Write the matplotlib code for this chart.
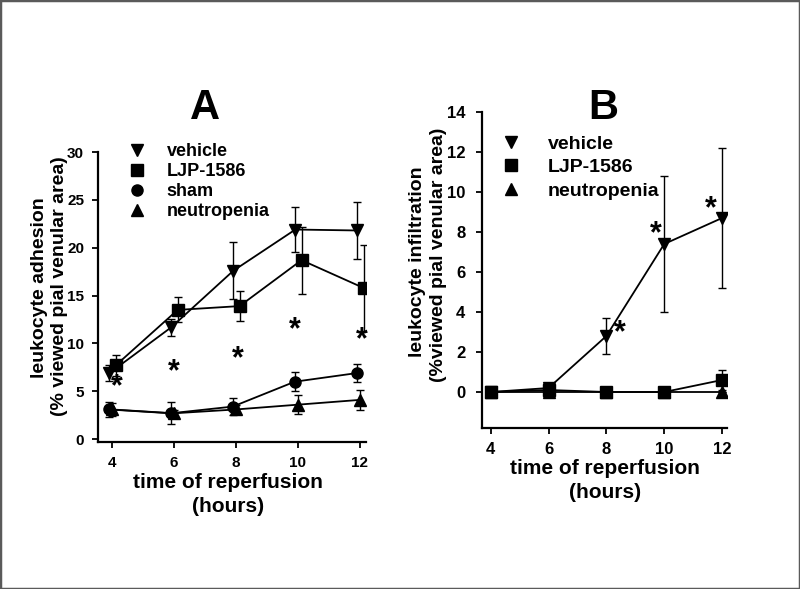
import matplotlib
matplotlib.use("Agg")
import matplotlib.pyplot as plt
from matplotlib.lines import Line2D
from matplotlib.patches import Rectangle
import numpy as np

plt.rcParams['font.family'] = ['Liberation Sans', 'DejaVu Sans']
plt.rcParams['font.weight'] = 'bold'

# ---------------- data ----------------
hours = [4, 6, 8, 10, 12]

# Panel A: leukocyte adhesion
a_vehicle = [6.9, 11.7, 17.6, 21.9, 21.8]
a_vehicle_err = [0.8, 0.9, 3.0, 2.4, 3.0]
a_ljp = [7.7, 13.5, 13.9, 18.7, 15.8]
a_ljp_err = [1.1, 1.3, 1.6, 3.5, 4.5]
a_sham = [3.1, 2.7, 3.4, 6.0, 6.9]
a_sham_err = [0.8, 1.15, 0.85, 1.0, 0.9]
a_neut = [3.1, 2.7, 3.1, 3.6, 4.1]
a_neut_err = [0.7, 0.3, 0.5, 1.0, 1.05]
a_star_x = [4.15, 6.0, 8.05, 9.9, 12.05]
a_star_y = [5.45, 7.0, 8.3, 11.4, 10.3]

# Panel B: leukocyte infiltration
b_vehicle = [0.0, 0.2, 2.8, 7.4, 8.7]
b_vehicle_err = [0.0, 0.0, 0.9, 3.4, 3.5]
b_ljp = [0.0, 0.1, 0.0, 0.0, 0.6]
b_ljp_err = [0.0, 0.0, 0.0, 0.0, 0.5]
b_neut = [0.0, 0.0, 0.0, 0.0, 0.0]
b_neut_err = [0.0, 0.0, 0.0, 0.0, 0.0]
b_star_x = [8.48, 9.72, 11.62]
b_star_y = [2.94, 7.9, 9.15]

a_yticks = [0, 5, 10, 15, 20, 25, 30]
b_yticks = [0, 2, 4, 6, 8, 10, 12, 14]

# ---------------- figure ----------------
W, H = 800, 589
fig = plt.figure(figsize=(W / 100, H / 100), dpi=100)
fig.patch.set_facecolor('white')


def box(x0, y0, x1, y1):
    """pixel box (top-left origin) -> figure fraction rect"""
    return [x0 / W, 1 - y1 / H, (x1 - x0) / W, (y1 - y0) / H]


def fx(x):
    return x / W


def fy(y):
    return 1 - y / H


axA = fig.add_axes(box(98, 152, 366, 442))
axB = fig.add_axes(box(482, 112, 727, 428))

lw = 1.3
ekw = dict(ecolor='black', elinewidth=1.0, capsize=3, capthick=1.0)


def series(ax, x, y, e, marker, ms):
    ax.errorbar(x, y, yerr=e, color='black', lw=lw, marker=marker, ms=ms,
                mfc='black', mec='black', **ekw)


def style(ax, xlim, ylim, yticks, xtick_fs, ytick_fs, ypad):
    ax.set_xlim(*xlim)
    ax.set_ylim(*ylim)
    ax.set_xticks(hours)
    ax.set_yticks(yticks)
    for s in ['top', 'right']:
        ax.spines[s].set_visible(False)
    for s in ['left', 'bottom']:
        ax.spines[s].set_linewidth(1.6)
    ax.spines['left'].set_bounds(ylim[0], yticks[-1])
    ax.tick_params(direction='out', length=4, width=1.3)
    ax.tick_params(axis='x', labelsize=xtick_fs, pad=6)
    ax.tick_params(axis='y', labelsize=ytick_fs, pad=ypad)
    for t in ax.get_xticklabels() + ax.get_yticklabels():
        t.set_fontweight('bold')


hx = np.array(hours, dtype=float)

# Panel A
series(axA, hx - 0.1, a_sham, a_sham_err, 'o', 8)
series(axA, hx, a_neut, a_neut_err, '^', 9)
series(axA, hx - 0.08, a_vehicle, a_vehicle_err, 'v', 9)
series(axA, hx + 0.12, a_ljp, a_ljp_err, 's', 8)
for x, y in zip(a_star_x, a_star_y):
    axA.text(x, y, '*', fontsize=22, ha='center', va='center', fontweight='bold')
style(axA, (3.55, 12.2), (-0.3, 30), a_yticks, 11, 11, 6)

# Panel B
series(axB, hx, b_neut, b_neut_err, '^', 9)
series(axB, hx, b_ljp, b_ljp_err, 's', 8)
series(axB, hx, b_vehicle, b_vehicle_err, 'v', 9)
for x, y in zip(b_star_x, b_star_y):
    axB.text(x, y, '*', fontsize=22, ha='center', va='center', fontweight='bold')
style(axB, (3.7, 12.17), (-1.8, 14), b_yticks, 12, 12, 8)


def mk(marker, ms):
    return Line2D([], [], color='black', marker=marker, ms=ms, lw=0)


legA = axA.legend([mk('v', 9), mk('s', 8), mk('o', 8), mk('^', 9)],
                  ['vehicle', 'LJP-1586', 'sham', 'neutropenia'],
                  loc='upper left', bbox_to_anchor=(fx(128), fy(143)),
                  bbox_transform=fig.transFigure, frameon=False,
                  prop=dict(size=13, weight='bold'), handlelength=1.0,
                  handletextpad=1.15, labelspacing=0.17, borderpad=0, borderaxespad=0)
legB = axB.legend([mk('v', 9), mk('s', 8), mk('^', 9)],
                  ['vehicle', 'LJP-1586', 'neutropenia'],
                  loc='upper left', bbox_to_anchor=(fx(501), fy(135)),
                  bbox_transform=fig.transFigure, frameon=False,
                  prop=dict(size=14, weight='bold'), handlelength=1.0,
                  handletextpad=1.4, labelspacing=0.3, borderpad=0, borderaxespad=0)

# panel titles
fig.text(fx(205), fy(108), 'A', fontsize=30, fontweight='bold', ha='center', va='center')
fig.text(fx(603), fy(108), 'B', fontsize=30, fontweight='bold', ha='center', va='center')

# axis labels
fig.text(fx(228), fy(483), 'time of reperfusion', fontsize=15, fontweight='bold',
         ha='center', va='center')
fig.text(fx(228), fy(507), '(hours)', fontsize=15, fontweight='bold', ha='center', va='center')
fig.text(fx(605), fy(469), 'time of reperfusion', fontsize=15, fontweight='bold',
         ha='center', va='center')
fig.text(fx(605), fy(492), '(hours)', fontsize=15, fontweight='bold', ha='center', va='center')

fig.text(fx(40), fy(288), 'leukocyte adhesion', fontsize=14, fontweight='bold',
         ha='center', va='center', rotation=90)
fig.text(fx(59), fy(286), '(% viewed pial venular area)', fontsize=14, fontweight='bold',
         ha='center', va='center', rotation=90)
fig.text(fx(418), fy(262), 'leukocyte infiltration', fontsize=14, fontweight='bold',
         ha='center', va='center', rotation=90)
fig.text(fx(439), fy(255), '(%viewed pial venular area)', fontsize=14, fontweight='bold',
         ha='center', va='center', rotation=90)

# outer frame
fig.patches.append(Rectangle((0, 0), 1, 1, transform=fig.transFigure, fill=False,
                             edgecolor='#5a5a5a', lw=2.5, zorder=10))

fig.savefig('out.png', dpi=100, facecolor='white')
